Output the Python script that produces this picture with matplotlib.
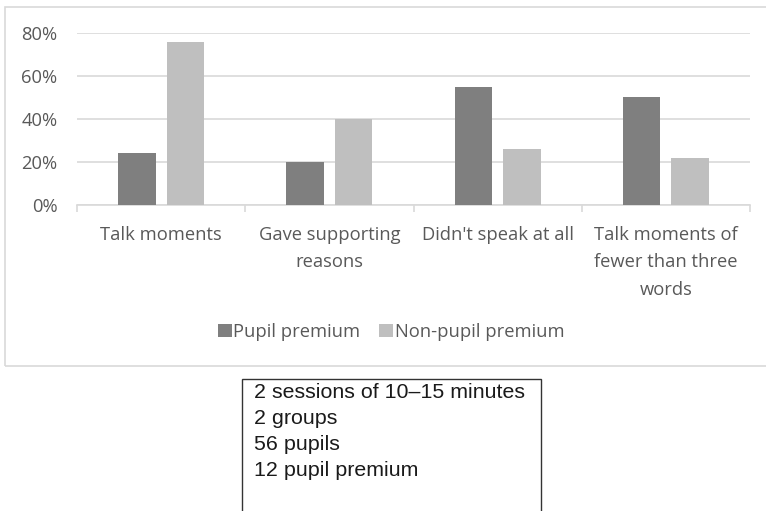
import matplotlib.pyplot as plt
from matplotlib.patches import Rectangle
import numpy as np

categories = ["Talk moments", "Gave supporting\nreasons", "Didn't speak at all",
              "Talk moments of\nfewer than three\nwords"]
pupil_premium = [24, 20, 55, 50]
non_pupil_premium = [76, 40, 26, 22]
series_names = ["Pupil premium", "Non-pupil premium"]
yticks = [0, 20, 40, 60, 80]
notes = ["2 sessions of 10\u201315 minutes", "2 groups", "56 pupils", "12 pupil premium"]

W, H = 766, 511
text_col = "#595959"
grid_col = "#d9d9d9"
fs = 13.2

plt.rcParams['font.family'] = ['Open Sans', 'DejaVu Sans']

fig = plt.figure(figsize=(W / 100, H / 100), dpi=100)

# outer chart border
fig.patches.append(Rectangle((5 / W, 1 - 366 / H), 1.0, (366 - 7) / H,
                             transform=fig.transFigure, fill=False,
                             ec=grid_col, lw=1.2))

ax = fig.add_axes([77 / W, 1 - 205 / H, (750 - 77) / W, (205 - 33) / H])

x = np.arange(len(categories))
w = 0.223
off = 0.144
ax.bar(x - off, pupil_premium, w, color="#7f7f7f", label=series_names[0], zorder=3)
ax.bar(x + off, non_pupil_premium, w, color="#bfbfbf", label=series_names[1], zorder=3)

ax.set_xlim(-0.5, len(categories) - 0.5)
ax.set_ylim(0, 80)
ax.set_yticks(yticks)
ax.set_yticklabels([f"{v}%" for v in yticks])
ax.yaxis.grid(True, color=grid_col, lw=1.2, zorder=0)
ax.tick_params(axis='y', length=0, pad=14, labelsize=fs, labelcolor=text_col)

ax.set_xticks(x)
ax.set_xticklabels(categories, linespacing=1.68)
ax.tick_params(axis='x', which='major', length=0, pad=15, labelsize=fs, labelcolor=text_col)
ax.set_xticks(np.arange(-0.5, len(categories)), minor=True)
ax.tick_params(axis='x', which='minor', length=5, width=1.2, color=grid_col)

for s in ['top', 'right', 'left']:
    ax.spines[s].set_visible(False)
ax.spines['bottom'].set_color(grid_col)
ax.spines['bottom'].set_linewidth(1.2)

fig.legend(loc='center', bbox_to_anchor=(391 / W, 1 - 332 / H), ncol=2,
           frameon=False, fontsize=fs, labelcolor=text_col,
           handlelength=0.75, handleheight=0.75, handletextpad=0.1,
           columnspacing=1.0)

# note box
fig.patches.append(Rectangle((242 / W, -0.05), (541 - 242) / W, 0.05 + 1 - 379 / H,
                             transform=fig.transFigure, fill=False,
                             ec="#333333", lw=1.0))
for i, line in enumerate(notes):
    fig.text(254 / W, 1 - (392 + 26 * i) / H, line, ha='left', va='center',
             fontsize=15.4, family=['Liberation Sans', 'DejaVu Sans'], color="#1a1a1a")

fig.savefig("out.png", dpi=100)
